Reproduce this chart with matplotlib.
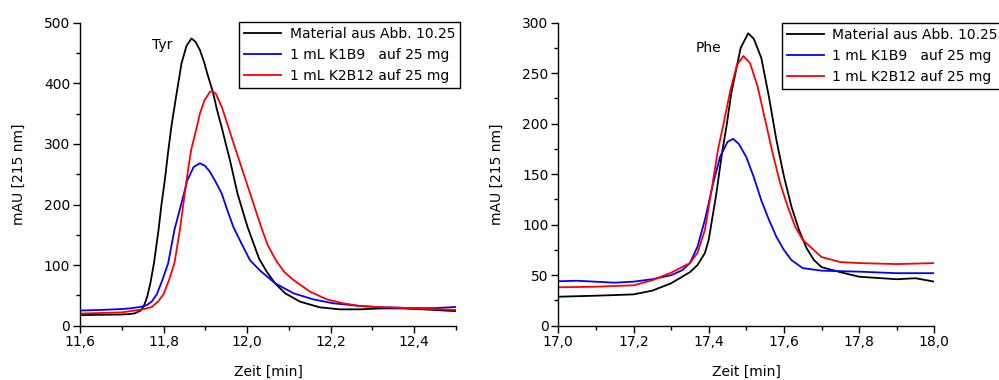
import matplotlib
matplotlib.use("Agg")
import matplotlib.pyplot as plt
from matplotlib.ticker import MultipleLocator, FuncFormatter
from matplotlib.lines import Line2D

plt.rcParams['font.family'] = ['DejaVu Sans']

# ---- Left panel (Tyr) ----
tyr_black_x = [11.60, 11.65, 11.70, 11.72, 11.732, 11.745, 11.752, 11.761, 11.769, 11.777, 11.788, 11.795,
               11.803, 11.811, 11.819, 11.830, 11.843, 11.855, 11.867, 11.877, 11.887, 11.897, 11.906,
               11.918, 11.928, 11.939, 11.949, 11.959, 11.977, 12.001, 12.029, 12.048, 12.067, 12.091,
               12.127, 12.174, 12.222, 12.27, 12.32, 12.37, 12.42, 12.46, 12.50]
tyr_black_y = [17.5, 18, 18.5, 19.3, 20.5, 25, 31, 48, 72, 103, 158, 200,
               240, 287, 330, 378, 433, 462, 474, 468, 455, 435, 413,
               386, 356, 328, 300, 273, 218, 163, 110, 88, 70, 53.5,
               39.6, 30.3, 27, 27, 28.5, 28.5, 27, 25.5, 24]
tyr_blue_x = [11.60, 11.65, 11.70, 11.72, 11.745, 11.760, 11.772, 11.784, 11.797, 11.811, 11.826, 11.842,
              11.857, 11.872, 11.887, 11.899, 11.911, 11.925, 11.939, 11.953, 11.967, 11.987, 12.007,
              12.031, 12.067, 12.111, 12.158, 12.206, 12.27, 12.32, 12.40, 12.45, 12.50]
tyr_blue_y = [25, 26, 27.5, 28.7, 31, 34, 40, 52, 75, 103, 158, 200,
              240, 262, 268, 264, 254, 237, 218.5, 190, 163, 135, 108,
              91, 70, 53.5, 43.5, 37, 32.5, 30.5, 29, 29, 31]
tyr_red_x = [11.60, 11.65, 11.70, 11.728, 11.75, 11.772, 11.787, 11.80, 11.813, 11.826, 11.839, 11.855,
             11.866, 11.878, 11.887, 11.898, 11.911, 11.917, 11.925, 11.940, 11.955, 11.968, 11.981,
             12.007, 12.035, 12.05, 12.071, 12.09, 12.111, 12.151, 12.191, 12.23, 12.27, 12.32, 12.37,
             12.42, 12.50]
tyr_red_y = [20, 21, 22, 24.8, 27, 31, 40, 52, 75, 103, 158, 240,
             290, 323, 350, 372, 386, 387, 383, 360, 328, 300, 273,
             218.5, 160, 132, 105.6, 88, 75.4, 56, 43.5, 37, 32.5, 30.5, 29.5,
             28, 26]

# ---- Right panel (Phe) ----
phe_black_x = [17.0, 17.1, 17.2, 17.25, 17.3, 17.35, 17.37, 17.39, 17.40, 17.42, 17.435, 17.448, 17.46,
               17.47, 17.485, 17.505, 17.52, 17.54, 17.56, 17.58, 17.60, 17.62, 17.64, 17.66, 17.68,
               17.70, 17.75, 17.80, 17.90, 17.95, 18.0]
phe_black_y = [28.7, 29.7, 31, 34.7, 42, 53, 60, 72, 85, 130, 170, 199, 230,
               248, 275, 289.5, 284, 265, 227, 184, 148, 118, 95, 77, 65,
               58, 53, 48.5, 46, 47, 43.6]
phe_blue_x = [17.0, 17.05, 17.15, 17.2, 17.25, 17.3, 17.33, 17.35, 17.37, 17.39, 17.41, 17.43, 17.45, 17.465,
              17.48, 17.5, 17.52, 17.54, 17.56, 17.58, 17.6, 17.62, 17.65, 17.7, 17.8, 17.9, 18.0]
phe_blue_y = [44, 44.5, 42.6, 43.6, 46, 50, 55, 62, 78, 105, 138, 167, 182, 185,
              180, 167, 147, 124, 105, 88, 75, 65, 57, 54.5, 53.5, 52, 52]
phe_red_x = [17.0, 17.1, 17.2, 17.25, 17.3, 17.35, 17.37, 17.39, 17.41, 17.425, 17.439, 17.457, 17.475,
             17.492, 17.51, 17.53, 17.55, 17.57, 17.59, 17.61, 17.63, 17.65, 17.7, 17.75, 17.8, 17.9, 18.0]
phe_red_y = [38, 38.6, 40, 45, 52.5, 62, 72, 95, 140, 175, 199, 232, 258,
             267, 260, 237, 204, 171, 141, 118, 98, 85, 68, 63, 62, 61, 62]

legend_labels = ["Material aus Abb. 10.25", "1 mL K1B9   auf 25 mg", "1 mL K2B12 auf 25 mg"]
colors = ["black", "#0000ff", "#ff0000"]

W, H = 999, 380
fig = plt.figure(figsize=(W / 100, H / 100), dpi=100)

def fbox(x0, x1, ytop, ybot):
    return [x0 / W, 1 - ybot / H, (x1 - x0) / W, (ybot - ytop) / H]

axL = fig.add_axes(fbox(80, 456, 22.7, 325.7))
axR = fig.add_axes(fbox(558.3, 934.3, 22.7, 325.7))

comma = FuncFormatter(lambda v, p: (f"{v:.1f}").replace(".", ","))

def style(ax, xlim, ylim, xmaj, xmin, ymaj, ymin):
    ax.set_xlim(*xlim)
    ax.set_ylim(*ylim)
    for s in ("top", "right"):
        ax.spines[s].set_visible(False)
    for s in ("left", "bottom"):
        ax.spines[s].set_linewidth(1.0)
    ax.xaxis.set_major_locator(MultipleLocator(xmaj))
    ax.xaxis.set_minor_locator(MultipleLocator(xmin))
    ax.yaxis.set_major_locator(MultipleLocator(ymaj))
    ax.yaxis.set_minor_locator(MultipleLocator(ymin))
    ax.xaxis.set_major_formatter(comma)
    ax.tick_params(which="major", direction="out", length=5, width=1, labelsize=10, pad=2)
    ax.tick_params(which="minor", direction="out", length=3, width=1)
    ax.set_xlabel("Zeit [min]", fontsize=10, labelpad=11)
    ax.set_ylabel("mAU [215 nm]", fontsize=10, labelpad=13)

style(axL, (11.6, 12.5), (0, 500), 0.2, 0.1, 100, 50)
style(axR, (17.0, 18.0), (0, 300), 0.2, 0.1, 50, 25)

for ax, series in [
    (axL, [(tyr_black_x, tyr_black_y), (tyr_blue_x, tyr_blue_y), (tyr_red_x, tyr_red_y)]),
    (axR, [(phe_black_x, phe_black_y), (phe_blue_x, phe_blue_y), (phe_red_x, phe_red_y)]),
]:
    for (x, y), c in zip(series, colors):
        ax.plot(x, y, color=c, lw=1.3, solid_joinstyle="round", solid_capstyle="round")

axL.text(11.772, 463, "Tyr", fontsize=10, va="center", ha="left")
axR.text(17.364, 275, "Phe", fontsize=10, va="center", ha="left")

handles = [Line2D([], [], color=c, lw=1.3) for c in colors]

def add_legend(ax, x0, ytop):
    leg = ax.legend(handles, legend_labels, loc="upper left",
                    bbox_to_anchor=(x0 / W, 1 - ytop / H), bbox_transform=fig.transFigure,
                    fontsize=10, frameon=True, fancybox=False, framealpha=1,
                    edgecolor="black", borderpad=0.35, labelspacing=0.5,
                    handlelength=2.7, handletextpad=0.6, borderaxespad=0)
    leg.get_frame().set_linewidth(1.0)
    return leg

add_legend(axL, 239, 22)
add_legend(axR, 781.7, 23)

fig.savefig("out.png", dpi=100)
